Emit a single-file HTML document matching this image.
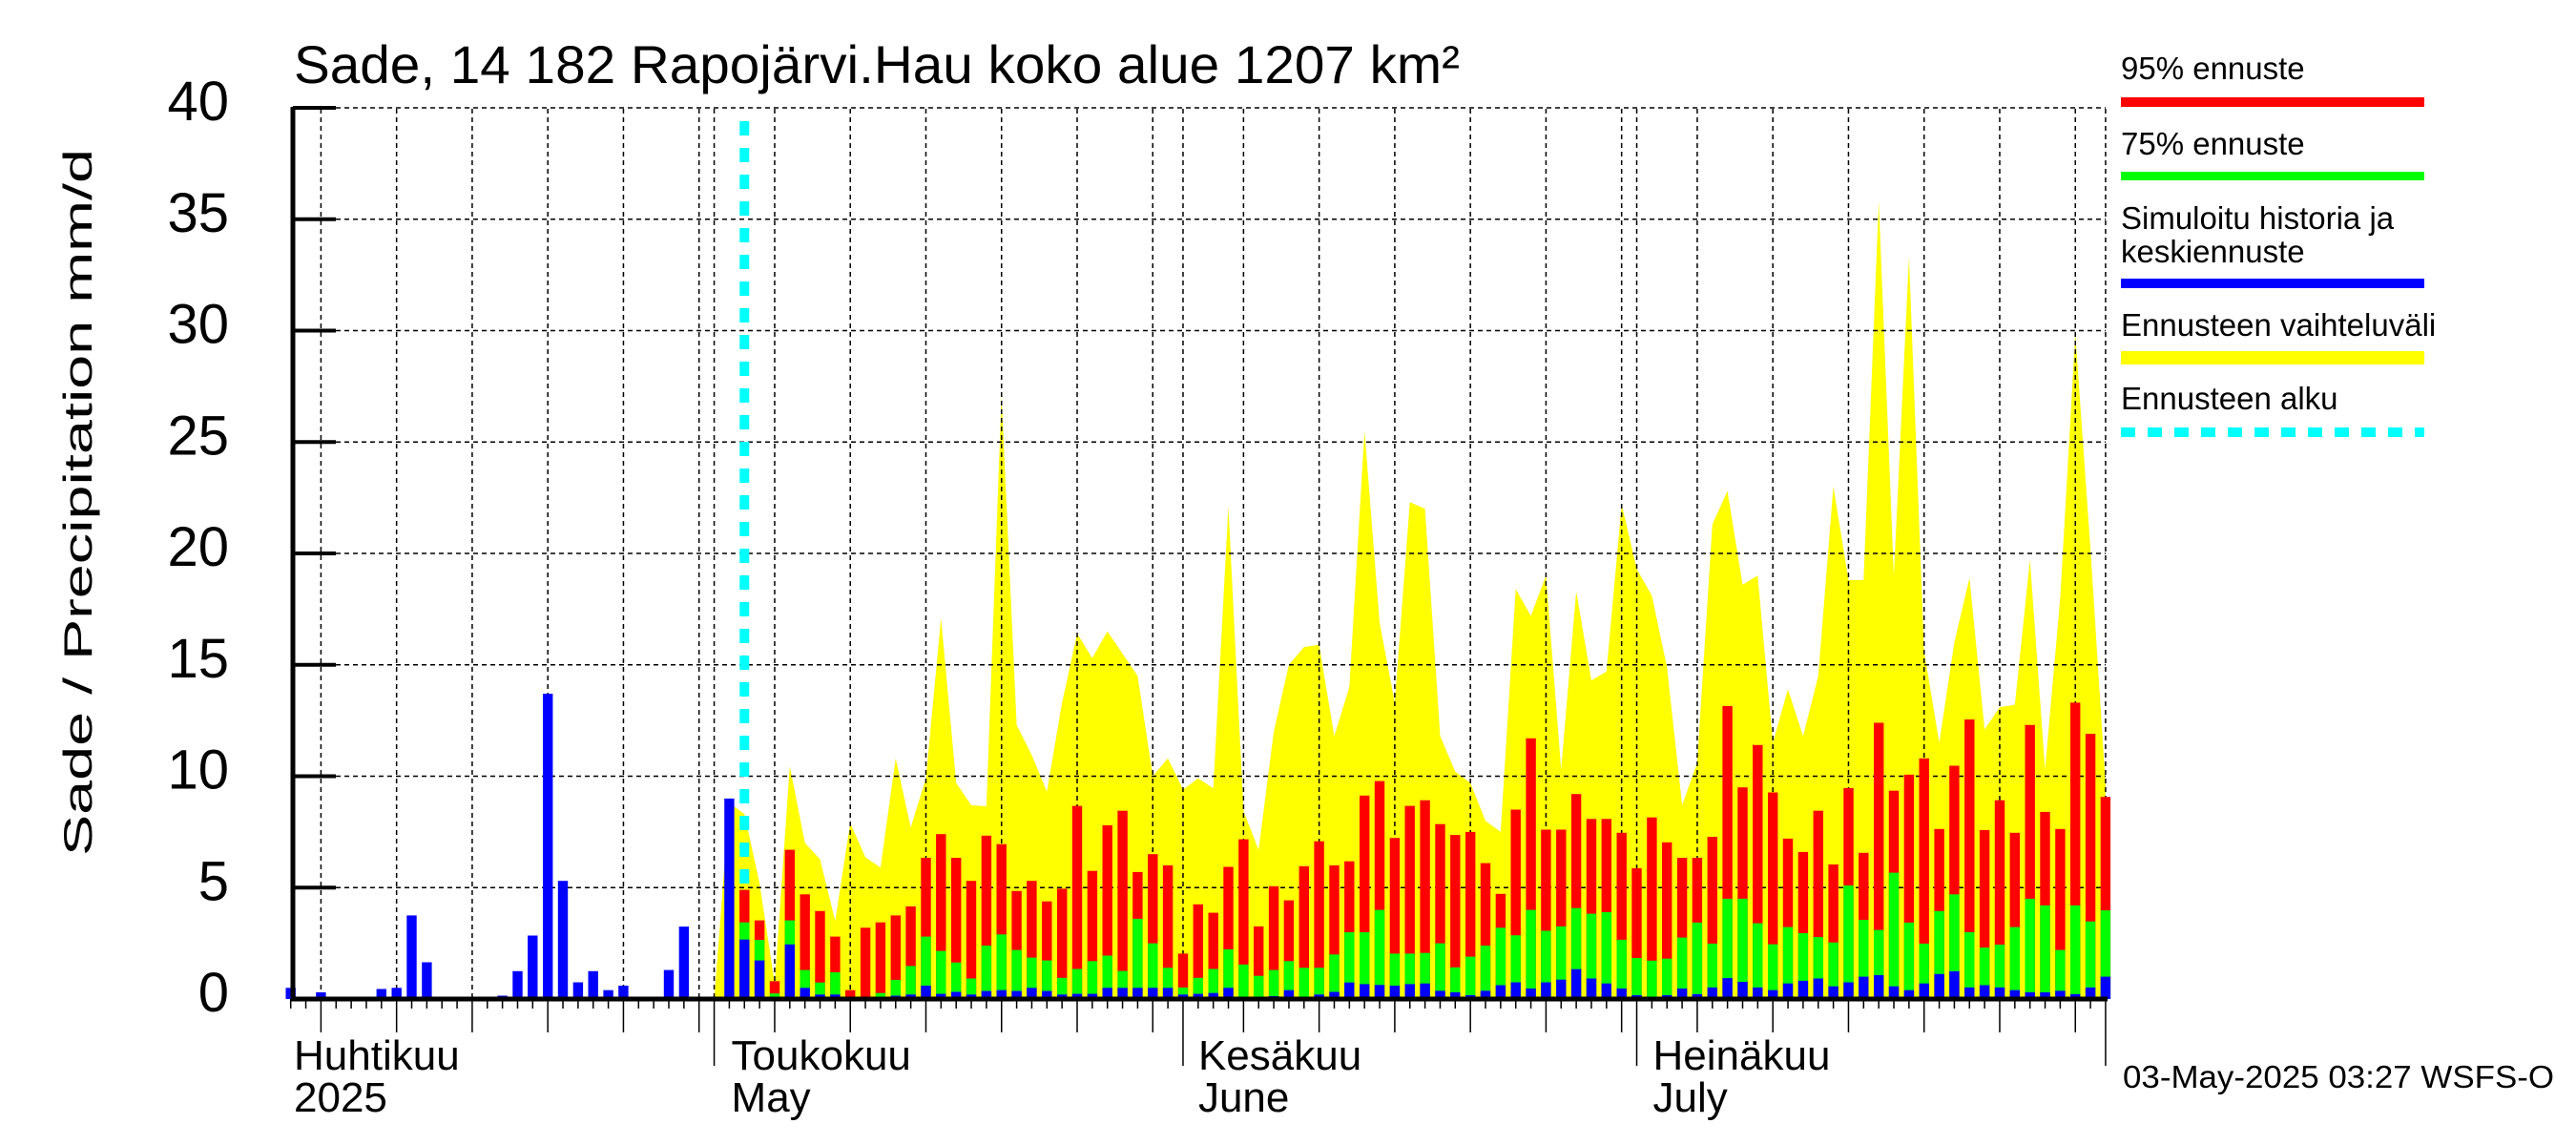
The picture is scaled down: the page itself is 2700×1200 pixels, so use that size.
<!DOCTYPE html>
<html><head><meta charset="utf-8"><title>Sade 14 182 Rapojärvi.Hau</title>
<style>html,body{margin:0;padding:0;background:#fff;}svg{display:block;font-family:"Liberation Sans",Arial,sans-serif;}</style>
</head><body>
<svg id="chart" width="2700" height="1200" viewBox="0 0 2700 1200" xmlns="http://www.w3.org/2000/svg">
<rect x="0" y="0" width="2700" height="1200" fill="#fff"/>
<text x="308" y="87" font-size="56" textLength="1222" lengthAdjust="spacingAndGlyphs">Sade, 14 182 Rapojärvi.Hau koko alue 1207 km²</text>
<text transform="translate(96,897) rotate(-90)" font-size="42" textLength="741" lengthAdjust="spacingAndGlyphs">Sade / Precipitation   mm/d</text>
<g id="yellowLayer"></g>
<g id="gridLayer"></g>
<g id="barLayer"></g>
<g id="axisLayer"></g>
<g font-size="33">
  <g><text x="2223" y="83">95% ennuste</text><rect x="2223" y="102" width="318" height="10" fill="#ff0000"/></g>
  <g><text x="2223" y="162">75% ennuste</text><rect x="2223" y="180" width="318" height="9" fill="#00ff00"/></g>
  <g><text x="2223" y="240">Simuloitu historia ja</text><text x="2223" y="275">keskiennuste</text><rect x="2223" y="292" width="318" height="10" fill="#0000ff"/></g>
  <g><text x="2223" y="352">Ennusteen vaihteluväli</text><rect x="2223" y="368" width="318" height="14" fill="#ffff00"/></g>
  <g><text x="2223" y="429">Ennusteen alku</text><line x1="2223" y1="453" x2="2541" y2="453" stroke="#00ffff" stroke-width="10" stroke-dasharray="15,13"/></g>
</g>
<text x="2225" y="1140" font-size="33" textLength="452" lengthAdjust="spacingAndGlyphs">03-May-2025 03:27 WSFS-O</text>
</svg>
<script>
const histValues = [0.5,0.1,0.3,0,0.05,0.05,0.45,0.5,3.75,1.65,0.05,0,0,0,0.15,1.25,2.85,13.7,5.3,0.75,1.25,0.4,0.6,0.1,0,1.3,3.25,0.1,0.1,9.0];
const red95 = [4.9,3.53,0.8,6.7,4.7,3.95,2.8,0.4,3.2,3.44,
3.75,4.16,6.34,7.4,6.34,5.3,7.33,6.95,4.85,5.3,
4.38,4.95,8.67,5.75,7.8,8.45,5.7,6.5,6.0,2.04,
4.25,3.87,5.93,7.17,3.26,5.06,4.43,5.96,7.08,6.0,
6.18,9.13,9.78,7.23,8.67,8.92,7.85,7.36,7.5,6.1,
4.72,8.5,11.7,7.6,7.6,9.2,8.08,8.08,7.46,5.87,
8.15,7.03,6.34,6.34,7.28,13.15,9.5,11.4,9.27,7.2,
6.6,8.45,6.04,9.47,6.56,12.4,9.35,10.07,10.8,7.63,
10.47,12.55,7.58,8.92,7.46,12.3,8.4,7.63,13.3,11.9,9.07];
const green75 = [3.44,2.65,0.25,3.53,1.3,0.74,1.2,0,0.05,0.27,
0.86,1.48,2.8,2.16,1.64,0.92,2.4,2.9,2.2,1.86,
1.73,0.95,1.35,1.7,1.95,1.26,3.6,2.5,1.4,0.52,
0.95,1.35,2.23,1.55,1.04,1.3,1.7,1.4,1.4,2.0,
3.0,3.0,4.0,2.04,2.04,2.07,2.5,1.42,1.9,2.4,
3.2,2.86,4.0,3.06,3.26,4.08,3.83,3.9,2.66,1.84,
1.72,1.81,2.76,3.43,2.49,4.5,4.5,3.4,2.46,3.23,
2.96,2.78,2.54,5.1,3.55,3.1,5.67,3.43,2.49,3.95,
4.7,3.0,2.31,2.44,3.23,4.5,4.2,2.2,4.2,3.48,3.98];
const blueMedian = [2.67,1.73,0.05,2.45,0.5,0.2,0.2,0,0,0,
0.15,0.2,0.6,0.23,0.32,0.2,0.36,0.4,0.36,0.5,
0.36,0.2,0.23,0.23,0.5,0.5,0.5,0.5,0.5,0.2,
0.23,0.27,0.5,0.05,0.05,0.13,0.4,0.05,0.2,0.32,
0.74,0.67,0.63,0.6,0.67,0.7,0.37,0.3,0.17,0.37,
0.62,0.75,0.47,0.75,0.87,1.34,0.92,0.7,0.47,0.17,
0.07,0.17,0.47,0.22,0.52,0.94,0.77,0.52,0.4,0.7,
0.82,0.92,0.57,0.75,1.0,1.07,0.57,0.4,0.7,1.12,
1.24,0.52,0.62,0.52,0.4,0.3,0.3,0.37,0.22,0.52,1.0];
const yellowMax = [0,8.8,
8.3,5.2,0.7,10.45,7.0,6.27,3.5,7.9,6.36,5.9,
10.8,7.7,9.9,17.1,9.7,8.7,8.65,27.1,12.3,10.95,
9.3,13.3,16.4,15.3,16.5,15.5,14.5,10,10.8,9.4,
9.9,9.46,22.1,8.43,6.7,12,15,15.8,15.9,11.8,
14,25.5,16.9,13.3,22.3,22.0,11.8,10.2,9.7,8.0,
7.5,18.4,17.2,19.0,10.3,18.3,14.3,14.7,22.2,19.3,
18.1,14.9,8.7,10.6,21.3,22.8,18.6,19.0,11.5,13.9,
11.8,14.5,23.0,18.8,18.8,35.8,19,33.3,15.6,11.5,
16.0,18.9,12.1,13.1,13.2,19.7,10.3,18.0,29.85,20.2,9.6];
const yTicks = [0,5,10,15,20,25,30,35,40];
const monthLabelsFi = ["Huhtikuu","Toukokuu","Kesäkuu","Heinäkuu"];
const monthLabelsEn = ["2025","May","June","July"];
const monthStartIdx = [28,59,89,120]; // day index of month start (May1, Jun1, Jul1, Aug1)
const gridDayIdx = [2,7,12,17,22,27,28,32,37,42,47,52,57,59,63,68,73,78,83,88,89,93,98,103,108,113,118,120];

const NS="http://www.w3.org/2000/svg";
const X0=304.7, DX=15.852, Y0=1047, PPM=23.35, LEFT=307, RIGHT=2207, TOP=114;
const HIST_LEN=histValues.length, YEL_START=28;
function xs(i){return X0+DX*i;}
function ys(v){return Y0-v*PPM;}
function mk(tag,attrs,parent){const e=document.createElementNS(NS,tag);for(const k in attrs)e.setAttribute(k,attrs[k]);parent.appendChild(e);return e;}

const yl=document.getElementById('yellowLayer');
let pts=[];
for(let k=0;k<yellowMax.length;k++){pts.push(xs(YEL_START+k).toFixed(1)+','+ys(yellowMax[k]).toFixed(1));}
const lastI=YEL_START+yellowMax.length-1;
pts.push(xs(lastI).toFixed(1)+','+Y0);pts.push(xs(YEL_START).toFixed(1)+','+Y0);
const poly=mk('polygon',{points:pts.join(' '),fill:'#ffff00'},yl);



const gl=document.getElementById('gridLayer');
for(const t of yTicks){ if(t===0)continue;
  const l=mk('line',{x1:LEFT,y1:ys(t),x2:RIGHT,y2:ys(t),stroke:'#000','stroke-width':1.5,'stroke-dasharray':'5,4'},gl);
  
  
}
for(const d of gridDayIdx){
  const l=mk('line',{x1:xs(d),y1:TOP,x2:xs(d),y2:Y0,stroke:'#000','stroke-width':1.5,'stroke-dasharray':'5,4'},gl);
  
  
}
const cy=mk('line',{x1:xs(HIST_LEN),y1:127,x2:xs(HIST_LEN),y2:Y0,stroke:'#00ffff','stroke-width':10,'stroke-dasharray':'15,13'},gl);



const bl=document.getElementById('barLayer');
const BW=10.4;
function bar(i,v,color,name){ if(v<=0)return;
  const r=mk('rect',{x:(xs(i)-BW/2).toFixed(1),y:ys(v).toFixed(1),width:BW,height:(v*PPM).toFixed(1),fill:color},bl);
  
  
}
for(let i=0;i<HIST_LEN;i++){bar(i,histValues[i],'#0000ff','history-bar');}
for(let f=0;f<red95.length;f++){const i=HIST_LEN+f;
  bar(i,red95[f],'#ff0000','forecast-95-bar');
  bar(i,green75[f],'#00ff00','forecast-75-bar');
  bar(i,blueMedian[f],'#0000ff','forecast-median-bar');
}

const al=document.getElementById('axisLayer');
const ya=mk('line',{x1:LEFT,y1:TOP-2,x2:LEFT,y2:Y0+2,stroke:'#000','stroke-width':5},al);


const xa=mk('line',{x1:LEFT-2,y1:Y0,x2:RIGHT+2,y2:Y0,stroke:'#000','stroke-width':5},al);


for(const t of yTicks){
  const tk=mk('line',{x1:LEFT,y1:ys(t),x2:LEFT+45,y2:ys(t),stroke:'#000','stroke-width':4},al);
  
  
  const tx=mk('text',{x:240,y:ys(t)+13,'font-size':58,'text-anchor':'end'},al);
  tx.textContent=String(t);
  
  
}
for(let i=0;i<=120;i++){
  const isMonth=monthStartIdx.includes(i), isGrid=gridDayIdx.includes(i);
  const y2=isMonth?1117:(isGrid?1082:1057);
  const tk=mk('line',{x1:xs(i),y1:Y0,x2:xs(i),y2:y2,stroke:'#000','stroke-width':1.5},al);
  
  
}
const labelX=[308, xs(28)+18, xs(59)+16, xs(89)+17];
for(let m=0;m<monthLabelsFi.length;m++){
  const t1=mk('text',{x:labelX[m],y:1121,'font-size':44},al);
  t1.textContent=monthLabelsFi[m];
  
  
  const t2=mk('text',{x:labelX[m],y:1165,'font-size':44},al);
  t2.textContent=monthLabelsEn[m];
  
  
}
</script>
</body></html>
